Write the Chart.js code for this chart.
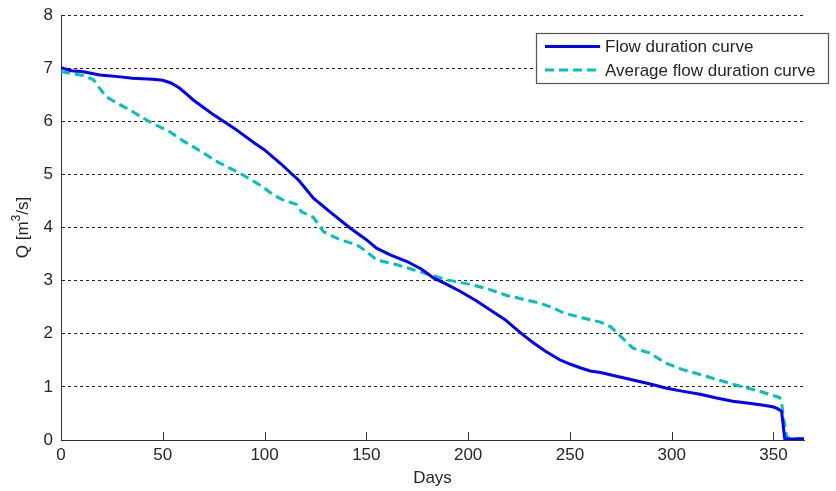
<!DOCTYPE html>
<html>
<head>
<meta charset="utf-8">
<title>Flow duration curve</title>
<script src="https://cdn.jsdelivr.net/npm/chart.js@4.4.1/dist/chart.umd.min.js"></script>
<style>
  html, body { margin: 0; padding: 0; background: #fff; }
  #wrap { width: 836px; height: 491px; }
</style>
</head>
<body>
<div id="wrap"><canvas id="fdc" width="836" height="491"></canvas></div>
<script>
// ---------------------------------------
// Data (days exceeded vs discharge)
// ---------------------------------------
const flowDays = [0, 5, 11, 19, 28, 35, 45, 50, 54, 58, 62, 65, 70, 75, 85, 95, 100, 108, 117, 124, 132,
  142, 150, 155, 162, 170, 177, 183, 190, 196, 204, 212, 218, 222, 227, 232, 238, 245, 250, 255, 260,
  265, 273, 281, 290, 297, 305, 314, 322, 330, 338, 346, 350, 352, 354, 355.5, 358, 365];
const flowQ = [7.01, 6.95, 6.93, 6.87, 6.84, 6.81, 6.79, 6.77, 6.72, 6.63, 6.50, 6.40, 6.26, 6.12, 5.87, 5.59, 5.46, 5.20, 4.88, 4.55, 4.30,
  3.99, 3.77, 3.61, 3.48, 3.36, 3.22, 3.05, 2.92, 2.80, 2.62, 2.42, 2.27, 2.14, 1.98, 1.83, 1.67, 1.51, 1.43, 1.36, 1.30,
  1.27, 1.20, 1.13, 1.05, 0.98, 0.92, 0.86, 0.79, 0.73, 0.69, 0.65, 0.62, 0.59, 0.54, 0.03, 0.02, 0.02];

const avgDays = [0, 5, 11, 16, 19, 22, 27, 34, 39, 45, 53, 60, 68, 78, 88, 99, 104, 109, 116, 118, 124,
  129, 137, 145, 150, 155, 165, 176, 189, 202, 210, 219, 227, 235, 241, 247, 256, 265, 270, 275, 281,
  289, 297, 305, 317, 330, 343, 353, 354, 355, 356.5, 358, 365];
const avgQ = [6.93, 6.90, 6.86, 6.78, 6.62, 6.47, 6.35, 6.21, 6.09, 5.96, 5.81, 5.63, 5.45, 5.21, 5.02, 4.77, 4.62, 4.52, 4.43, 4.30, 4.19,
  3.92, 3.77, 3.68, 3.55, 3.39, 3.30, 3.17, 3.02, 2.92, 2.84, 2.72, 2.65, 2.58, 2.50, 2.39, 2.30, 2.22, 2.13, 1.95, 1.73,
  1.64, 1.45, 1.33, 1.20, 1.05, 0.92, 0.80, 0.70, 0.40, 0.06, 0.03, 0.03];

const dayTicks = [0, 50, 100, 150, 200, 250, 300, 350];
const qTicks = [0, 1, 2, 3, 4, 5, 6, 7, 8];
const seriesNames = ["Flow duration curve", "Average flow duration curve"];

const FONT = "'Liberation Sans', Arial, sans-serif";
const FONT_SIZE = 17;
const TEXT = "#262626";

function toPoints(xs, ys) {
  return xs.map((x, i) => ({ x: x, y: ys[i] }));
}

// ---------------------------------------
// Inward tick marks on the day axis
// ---------------------------------------
const innerTicks = {
  id: "innerTicks",
  afterDatasetsDraw(chart) {
    const ctx = chart.ctx;
    const x = chart.scales.x;
    const bottom = chart.chartArea.bottom;
    ctx.save();
    ctx.strokeStyle = "#333";
    ctx.lineWidth = 1;
    dayTicks.forEach((d) => {
      if (d === 0) return;
      const px = Math.round(x.getPixelForValue(d)) + 0.5;
      ctx.beginPath();
      ctx.moveTo(px, bottom);
      ctx.lineTo(px, bottom - 8);
      ctx.stroke();
    });
    ctx.restore();
  },
};

// ---------------------------------------
// Y title with superscript unit
// ---------------------------------------
const qTitle = {
  id: "qTitle",
  afterDraw(chart) {
    const ctx = chart.ctx;
    const cy = (chart.chartArea.top + chart.chartArea.bottom) / 2;
    const parts = [
      { t: "Q [m", size: FONT_SIZE, dy: 0 },
      { t: "3", size: 12, dy: -8 },
      { t: "/s]", size: FONT_SIZE, dy: 0 },
    ];
    ctx.save();
    let total = 0;
    parts.forEach((p) => {
      ctx.font = p.size + "px " + FONT;
      p.w = ctx.measureText(p.t).width;
      total += p.w;
    });
    ctx.translate(28, cy);
    ctx.rotate(-Math.PI / 2);
    ctx.fillStyle = TEXT;
    ctx.textBaseline = "alphabetic";
    let pos = -total / 2;
    parts.forEach((p) => {
      ctx.font = p.size + "px " + FONT;
      ctx.fillText(p.t, pos, p.dy);
      pos += p.w;
    });
    ctx.restore();
  },
};

// ---------------------------------------
// Boxed legend in the upper right
// ---------------------------------------
const boxLegend = {
  id: "boxLegend",
  afterDraw(chart) {
    const ctx = chart.ctx;
    const area = chart.chartArea;
    const left = area.right - 268;
    const top = 33;
    const w = 292;
    const h = 50;
    ctx.save();
    ctx.fillStyle = "#fff";
    ctx.fillRect(left, top, w, h);
    ctx.strokeStyle = "#555";
    ctx.lineWidth = 1.2;
    ctx.strokeRect(left + 0.5, top + 0.5, w, h);
    chart.data.datasets.forEach((ds, i) => {
      const y = top + 13.5 + i * 23.5;
      ctx.strokeStyle = ds.borderColor;
      ctx.lineWidth = ds.borderWidth;
      ctx.setLineDash(ds.borderDash || []);
      ctx.beginPath();
      ctx.moveTo(left + 9, y);
      ctx.lineTo(left + 64, y);
      ctx.stroke();
      ctx.setLineDash([]);
      ctx.fillStyle = TEXT;
      ctx.font = FONT_SIZE + "px " + FONT;
      ctx.textBaseline = "middle";
      ctx.fillText(ds.label, left + 69, y + 1);
    });
    ctx.restore();
  },
};

// ---------------------------------------
// Chart
// ---------------------------------------
const fdcChart = new Chart(document.getElementById("fdc").getContext("2d"), {
  type: "line",
  data: {
    datasets: [
      {
        label: seriesNames[0],
        data: toPoints(flowDays, flowQ),
        borderColor: "#0000ff",
        borderWidth: 3,
        pointRadius: 0,
        tension: 0,
        fill: false,
      },
      {
        label: seriesNames[1],
        data: toPoints(avgDays, avgQ),
        borderColor: "#00bfbf",
        borderWidth: 3,
        borderDash: [9, 5],
        pointRadius: 0,
        tension: 0,
        fill: false,
      },
    ],
  },
  options: {
    responsive: false,
    animation: false,
    devicePixelRatio: 1,
    layout: { padding: { top: 15, right: 32, bottom: 0, left: 0 } },
    plugins: { legend: { display: false }, tooltip: { enabled: false } },
    scales: {
      x: {
        type: "linear",
        min: 0,
        max: 365,
        afterBuildTicks: (axis) => {
          axis.ticks = dayTicks.map((v) => ({ value: v }));
        },
        afterFit: (axis) => {
          axis.height = 51;
          axis.paddingLeft = 0;
          axis.paddingRight = 0;
        },
        grid: { display: false, drawTicks: false },
        border: { display: true, color: "#333", width: 1 },
        ticks: {
          color: TEXT,
          font: { family: FONT, size: FONT_SIZE },
          padding: 5,
          maxRotation: 0,
        },
        title: {
          display: true,
          text: "Days",
          color: TEXT,
          font: { family: FONT, size: FONT_SIZE },
          padding: { top: 0, bottom: 2 },
        },
      },
      y: {
        min: 0,
        max: 8,
        afterBuildTicks: (axis) => {
          axis.ticks = qTicks.map((v) => ({ value: v }));
        },
        afterFit: (axis) => {
          axis.width = 61;
          axis.paddingTop = 0;
          axis.paddingBottom = 0;
        },
        grid: {
          drawTicks: false,
          color: (c) => (c.tick && c.tick.value === 0 ? "rgba(0,0,0,0)" : "#222"),
          lineWidth: 1,
        },
        border: { display: true, color: "#333", width: 1, dash: [3, 3] },
        ticks: {
          color: TEXT,
          font: { family: FONT, size: FONT_SIZE },
          padding: 8,
        },
      },
    },
  },
  plugins: [innerTicks, qTitle, boxLegend],
});
</script>
</body>
</html>
